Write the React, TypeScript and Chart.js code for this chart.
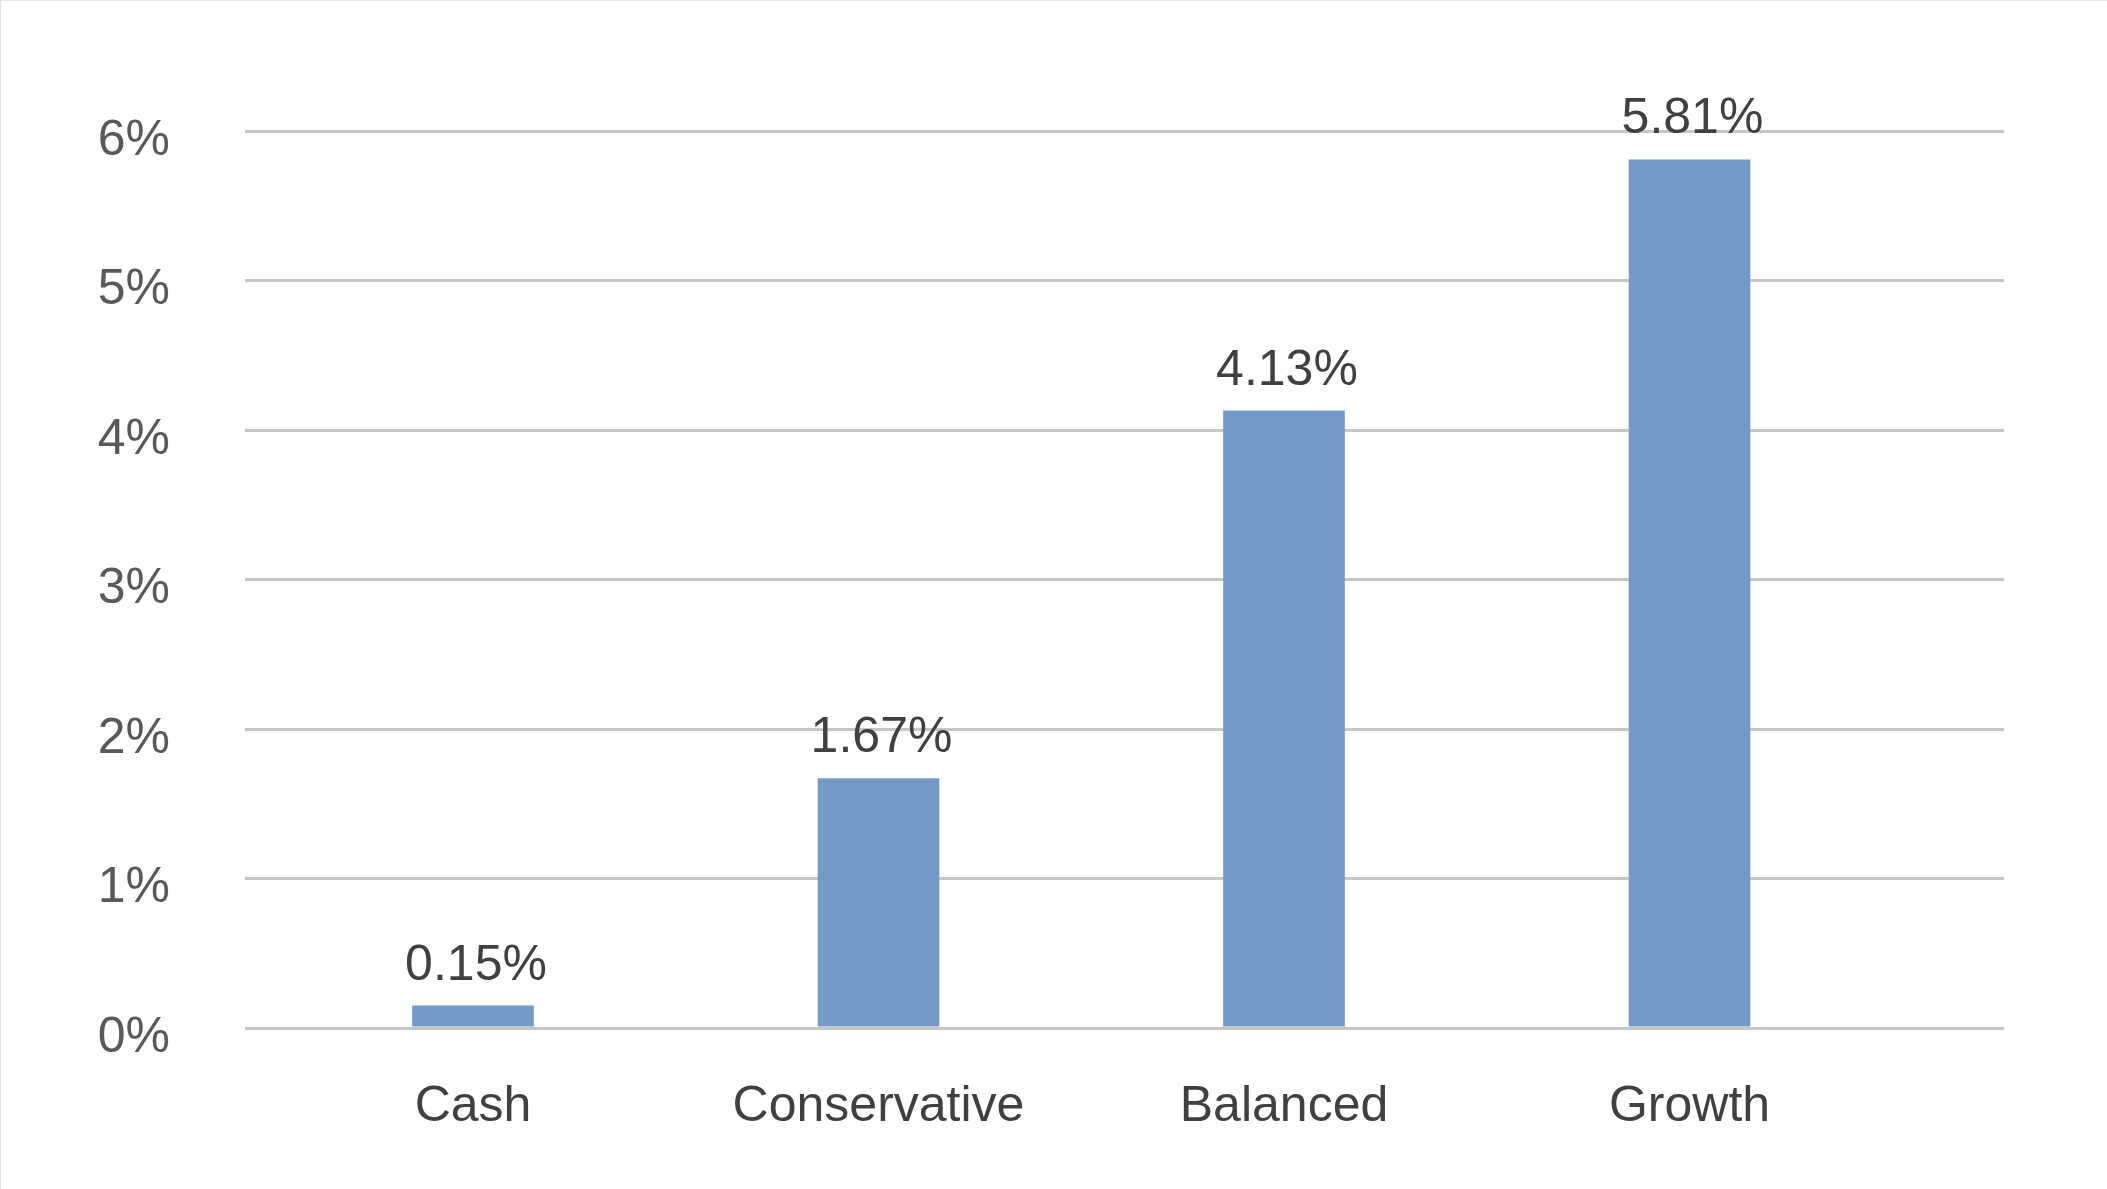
import React, { useEffect, useRef } from "react";
import { Chart, registerables } from "chart.js";

Chart.register(...registerables);

const categories: string[] = ["Cash", "Conservative", "Balanced", "Growth"];
const returnsPct: number[] = [0.15, 1.67, 4.13, 5.81];
const yTicks: number[] = [0, 1, 2, 3, 4, 5, 6];

const FONT = '"Liberation Sans", Arial, Helvetica, sans-serif';
const FONT_SIZE = 50;
const CANVAS_W = 2106;
const CANVAS_H = 1188;

const dataLabelPlugin = {
  id: "dataLabels",
  afterDatasetsDraw(chart: any) {
    const ctx = chart.ctx;
    const meta = chart.getDatasetMeta(0);
    ctx.save();
    ctx.font = `${FONT_SIZE}px ${FONT}`;
    ctx.fillStyle = "#404040";
    ctx.textAlign = "center";
    ctx.textBaseline = "alphabetic";
    meta.data.forEach((bar: any, i: number) => {
      const v = returnsPct[i];
      ctx.fillText(v.toFixed(2) + "%", bar.x + 3, bar.y - 26);
    });
    ctx.restore();
  },
};

export default function App() {
  const canvasRef = useRef<HTMLCanvasElement | null>(null);

  useEffect(() => {
    const canvas = canvasRef.current;
    if (!canvas) return;
    const chart = new Chart(canvas, {
      type: "bar",
      data: {
        datasets: [
          {
            data: returnsPct.map((v, i) => ({ x: i, y: v })),
            backgroundColor: "#7499c7",
            borderWidth: 0,
            barPercentage: 0.3,
            categoryPercentage: 1,
          },
        ],
      },
      options: {
        responsive: false,
        animation: false,
        devicePixelRatio: 1,
        layout: { padding: { left: 0, right: 103, top: 130, bottom: 0 } },
        plugins: {
          legend: { display: false },
          tooltip: { enabled: false },
          title: { display: false },
        },
        scales: {
          x: {
            type: "linear",
            offset: false,
            min: -0.5623,
            max: 3.7756,
            grid: { display: false, drawTicks: false },
            border: { display: false },
            afterBuildTicks: (scale: any) => {
              scale.ticks = categories.map((_, i) => ({ value: i }));
            },
            afterFit: (scale: any) => {
              scale.height = 161;
            },
            ticks: {
              autoSkip: false,
              maxRotation: 0,
              padding: 49,
              color: "#404040",
              font: { family: FONT, size: FONT_SIZE },
              callback: (value: any) => categories[Math.round(Number(value))] ?? "",
            },
          },
          y: {
            type: "linear",
            min: 0,
            max: 6,
            afterBuildTicks: (scale: any) => {
              scale.ticks = yTicks.map((v) => ({ value: v }));
            },
            afterFit: (scale: any) => {
              scale.width = 244;
            },
            grid: { color: "#c6c6c6", lineWidth: 3, drawTicks: false },
            border: { display: false },
            ticks: {
              padding: 75,
              labelOffset: 10,
              color: "#595959",
              font: { family: FONT, size: FONT_SIZE },
              callback: (value: any) => `${value}%`,
            },
          },
        },
      },
      plugins: [dataLabelPlugin],
    } as any);
    return () => chart.destroy();
  }, []);

  return (
    <div
      style={{
        position: "fixed",
        left: 0,
        top: 0,
        width: 2107,
        height: 1189,
        boxSizing: "border-box",
        borderTop: "1px solid #e4e4e4",
        borderLeft: "1px solid #e4e4e4",
        background: "#ffffff",
        overflow: "hidden",
      }}
    >
      <canvas
        ref={canvasRef}
        width={CANVAS_W}
        height={CANVAS_H}
        style={{ display: "block", width: CANVAS_W, height: CANVAS_H }}
      />
    </div>
  );
}
